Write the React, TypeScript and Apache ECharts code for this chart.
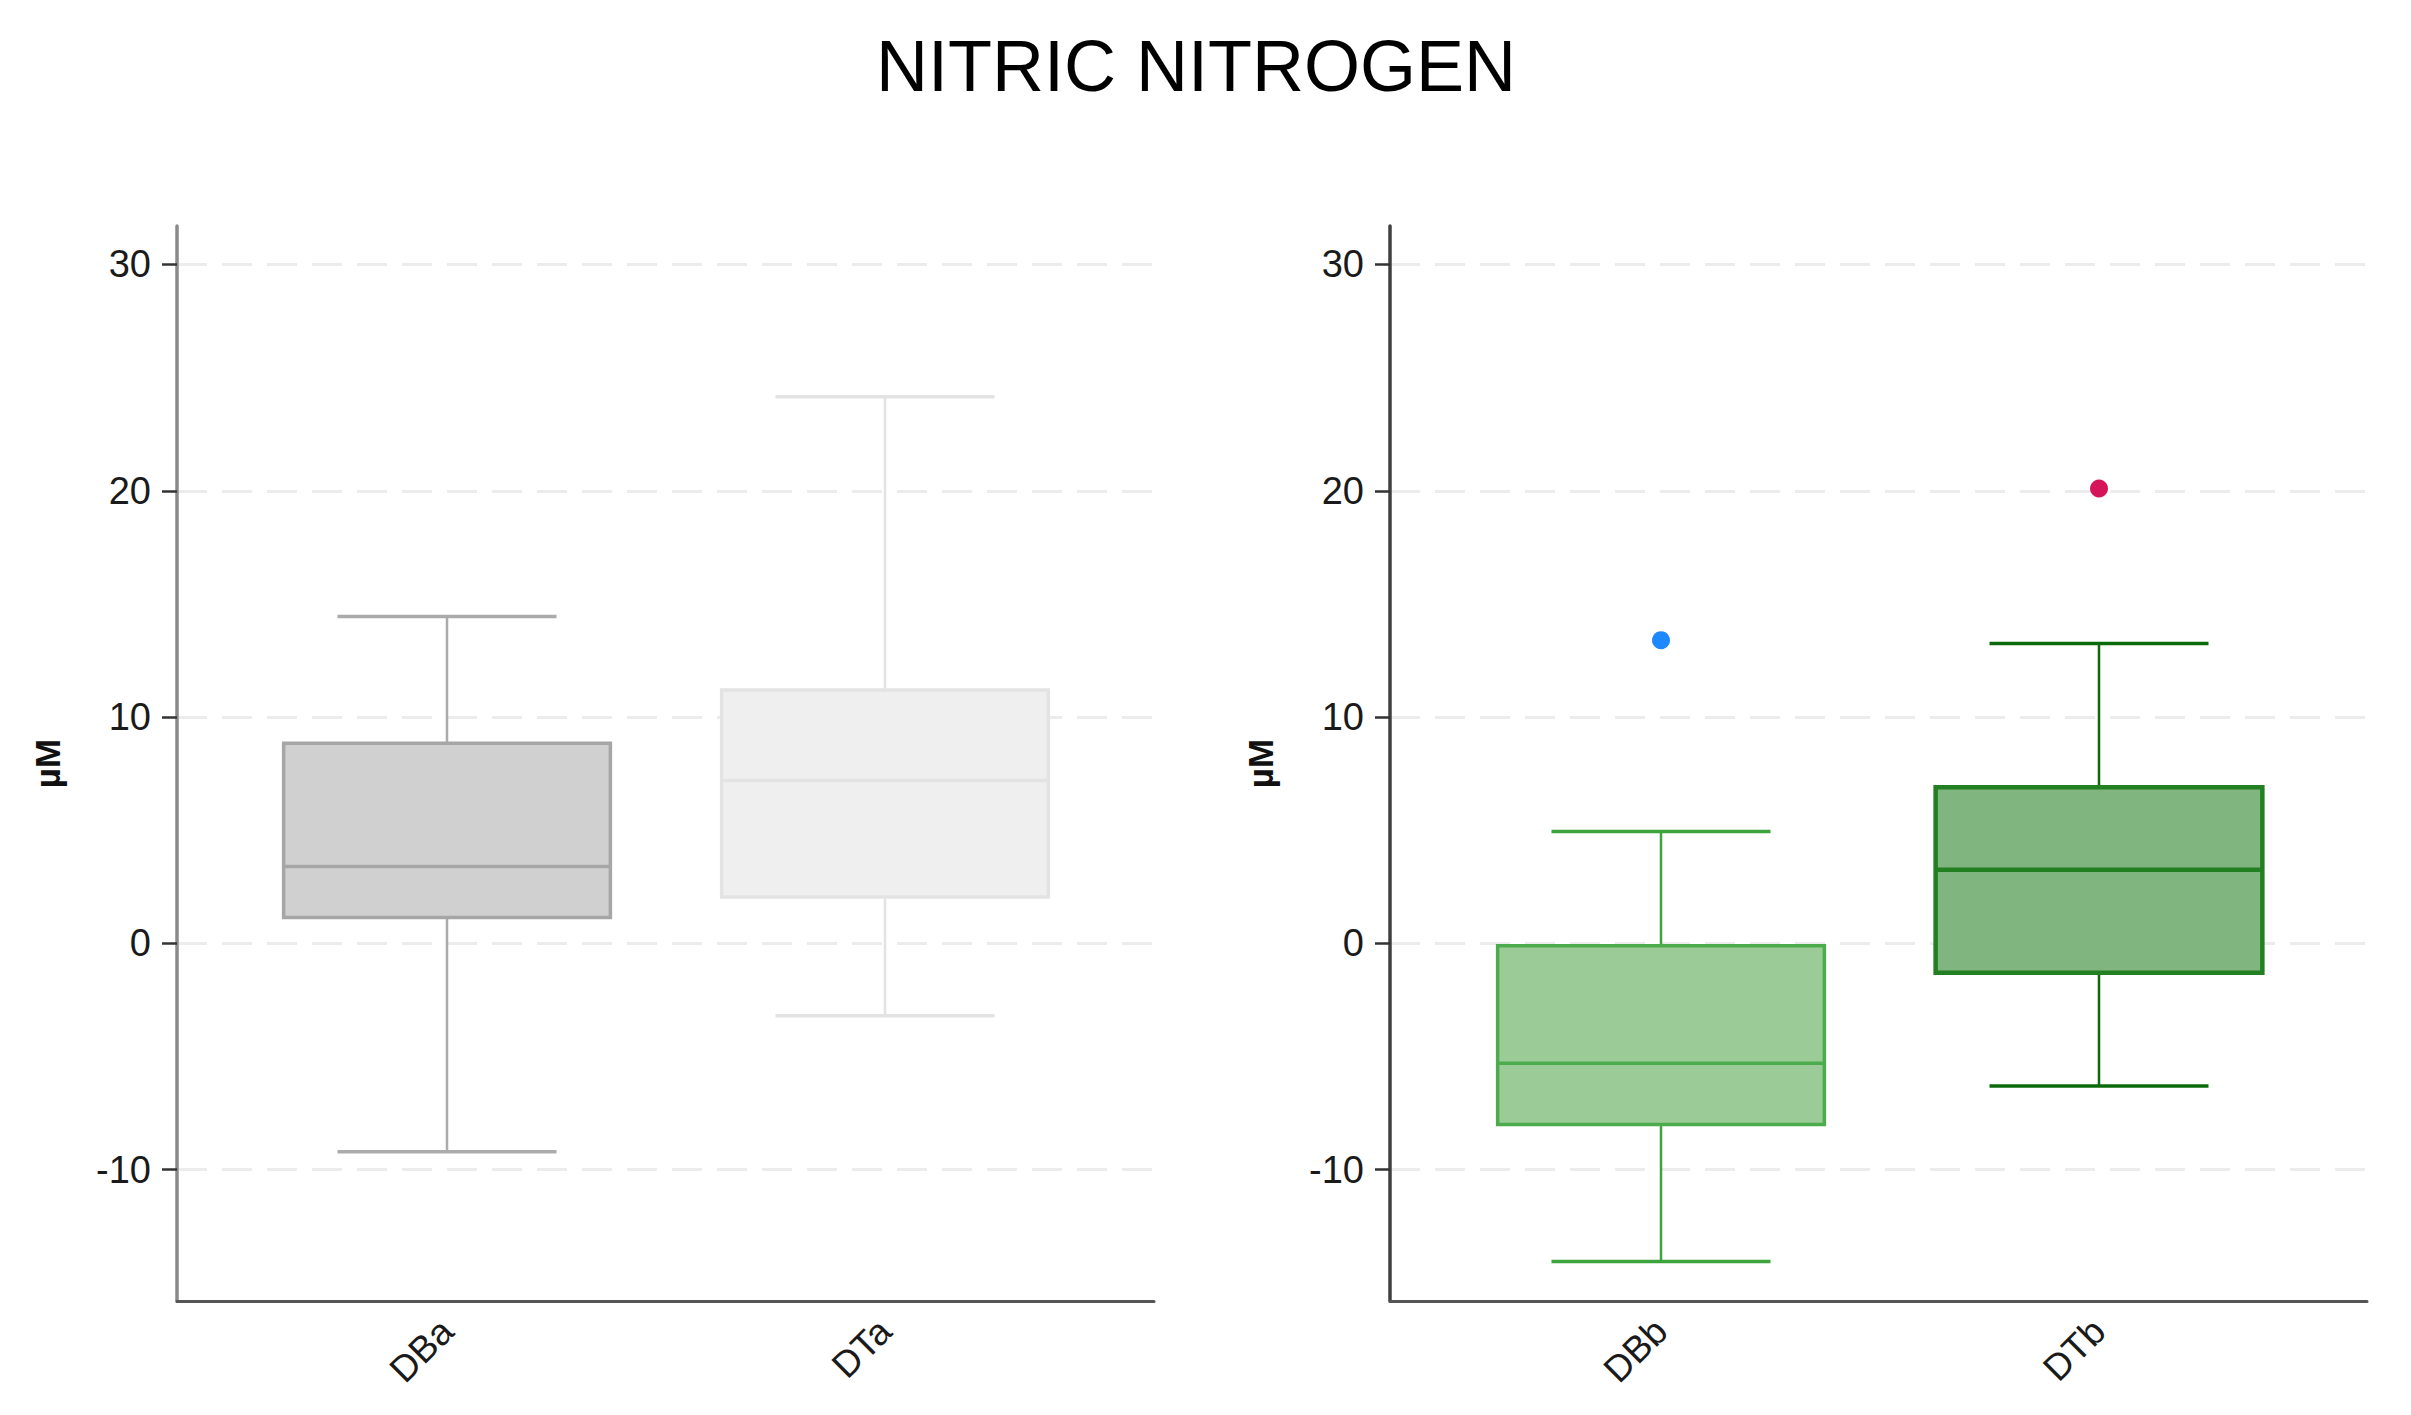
import React, { useEffect, useRef } from "react";
import * as echarts from "echarts";

const TITLE = "NITRIC NITROGEN";
const Y_NAME = "µM";
const leftCategories = ["DBa", "DTa"];
const rightCategories = ["DBb", "DTb"];
// each box: [min, Q1, median, Q3, max]
const leftBoxes = [
  [-9.2, 1.15, 3.4, 8.85, 14.45],
  [-3.2, 2.05, 7.2, 11.2, 24.15],
];
const rightBoxes = [
  [-14.05, -8.0, -5.3, -0.1, 4.95],
  [-6.3, -1.3, 3.25, 6.9, 13.25],
];
const rightOutlierCategory = [0, 1];
const rightOutlierValues = [13.4, 20.1];
const yTicks = [-10, 0, 10, 20, 30];
const Y_MIN = -15.8;
const Y_MAX = 31.7;

const FONT = '"Liberation Sans", Arial, Helvetica, sans-serif';

const leftStyles = [
  { fill: "#d0d0d0", border: "#a6a6a6", whisker: "#ababab", bw: 3.5 },
  { fill: "#efefef", border: "#e3e3e3", whisker: "#e3e3e3", bw: 3.5 },
];
const rightStyles = [
  { fill: "#9bcc97", border: "#4cab4c", whisker: "#3da33d", bw: 3.5 },
  { fill: "#81b57f", border: "#227f22", whisker: "#0b6b0b", bw: 4.5 },
];
const outlierColors = ["#1e88ff", "#d6145a"];

function makeRenderItem(styles: any[]) {
  return (params: any, api: any) => {
    const idx = api.value(0);
    const band = api.size([1, 0])[0];
    const bw = band * 0.746;
    const cw = band * 0.5;
    const pMin = api.coord([idx, api.value(1)]);
    const pQ1 = api.coord([idx, api.value(2)]);
    const pMed = api.coord([idx, api.value(3)]);
    const pQ3 = api.coord([idx, api.value(4)]);
    const pMax = api.coord([idx, api.value(5)]);
    const cx = pMin[0];
    const s = styles[params.dataIndex];
    return {
      type: "group",
      children: [
        { type: "line", shape: { x1: cx, y1: pQ3[1], x2: cx, y2: pMax[1] }, style: { stroke: s.whisker, lineWidth: 2.5 } },
        { type: "line", shape: { x1: cx, y1: pQ1[1], x2: cx, y2: pMin[1] }, style: { stroke: s.whisker, lineWidth: 2.5 } },
        { type: "line", shape: { x1: cx - cw / 2, y1: pMax[1], x2: cx + cw / 2, y2: pMax[1] }, style: { stroke: s.whisker, lineWidth: 3.5 } },
        { type: "line", shape: { x1: cx - cw / 2, y1: pMin[1], x2: cx + cw / 2, y2: pMin[1] }, style: { stroke: s.whisker, lineWidth: 3.5 } },
        {
          type: "rect",
          shape: { x: cx - bw / 2, y: pQ3[1], width: bw, height: pQ1[1] - pQ3[1] },
          style: { fill: s.fill, stroke: s.border, lineWidth: s.bw },
        },
        { type: "line", shape: { x1: cx - bw / 2, y1: pMed[1], x2: cx + bw / 2, y2: pMed[1] }, style: { stroke: s.border, lineWidth: s.bw } },
      ],
    };
  };
}

function visibleY(gridIndex: number, axisColor: string) {
  return {
    gridIndex,
    type: "value",
    min: Y_MIN,
    max: Y_MAX,
    name: Y_NAME,
    nameLocation: "middle",
    nameGap: 112,
    nameRotate: 90,
    nameTextStyle: { fontSize: 35, fontWeight: "bold", color: "#111", fontFamily: FONT },
    axisLine: { show: true, lineStyle: { color: axisColor, width: 3.5 } },
    axisTick: { show: true, length: 15, customValues: yTicks, lineStyle: { color: "#333", width: 2.5 } },
    axisLabel: { customValues: yTicks, fontSize: 38, margin: 26, color: "#1a1a1a", fontFamily: FONT },
    splitLine: {
      show: true,
      lineStyle: { color: "#ececec", width: 3, type: [30, 15] },
    },
  };
}

function hiddenY(gridIndex: number) {
  return {
    gridIndex,
    type: "value",
    min: Y_MIN,
    max: Y_MAX,
    show: false,
    splitLine: { show: false },
  };
}

function visibleX(gridIndex: number, cats: string[]) {
  return {
    gridIndex,
    type: "category",
    data: cats,
    axisLine: { show: true, onZero: false, lineStyle: { color: "#555", width: 3 } },
    axisTick: { show: false },
    axisLabel: { show: false },
    splitLine: { show: false },
  };
}

function labelX(gridIndex: number, cats: string[]) {
  return {
    gridIndex,
    type: "category",
    data: cats,
    axisLine: { show: false, onZero: false },
    axisTick: { show: false },
    axisLabel: { show: true, interval: 0, rotate: 45, fontSize: 37, margin: 24, color: "#1a1a1a", fontFamily: FONT },
    splitLine: { show: false },
  };
}

export default function App() {
  const ref = useRef<HTMLDivElement>(null);
  useEffect(() => {
    if (!ref.current) return;
    const chart = echarts.init(ref.current, undefined, { renderer: "svg" });
    const option: any = {
      animation: false,
      backgroundColor: "#ffffff",
      textStyle: { fontFamily: FONT },
      graphic: [
        {
          type: "text",
          x: 1188,
          y: 58,
          style: { text: TITLE, fontSize: 72, fontFamily: FONT, fill: "#000", align: "center", verticalAlign: "middle" },
        },
      ],
      grid: [
        { left: 169, top: 218, width: 977, height: 1075 },
        { left: 220, top: 218, width: 876, height: 1075 },
        { left: 1382, top: 218, width: 977, height: 1075 },
        { left: 1434, top: 218, width: 876, height: 1075 },
      ],
      xAxis: [
        visibleX(0, leftCategories),
        labelX(1, leftCategories),
        visibleX(2, rightCategories),
        labelX(3, rightCategories),
      ],
      yAxis: [visibleY(0, "#8a8a8a"), hiddenY(1), visibleY(2, "#404040"), hiddenY(3)],
      series: [
        {
          type: "custom",
          xAxisIndex: 1,
          yAxisIndex: 1,
          renderItem: makeRenderItem(leftStyles),
          encode: { x: 0, y: [1, 2, 3, 4, 5] },
          data: leftBoxes.map((b, i) => [i, ...b]),
          z: 3,
        },
        {
          type: "custom",
          xAxisIndex: 3,
          yAxisIndex: 3,
          renderItem: makeRenderItem(rightStyles),
          encode: { x: 0, y: [1, 2, 3, 4, 5] },
          data: rightBoxes.map((b, i) => [i, ...b]),
          z: 3,
        },
        {
          type: "scatter",
          xAxisIndex: 3,
          yAxisIndex: 3,
          symbol: "circle",
          symbolSize: 18,
          z: 4,
          itemStyle: { opacity: 1 },
          data: rightOutlierValues.map((v, i) => ({
            value: [rightOutlierCategory[i], v],
            itemStyle: { color: outlierColors[i], opacity: 1 },
          })),
        },
      ],
    };
    chart.setOption(option);
    return () => chart.dispose();
  }, []);
  return <div ref={ref} style={{ width: 2395, height: 1399 }} />;
}
